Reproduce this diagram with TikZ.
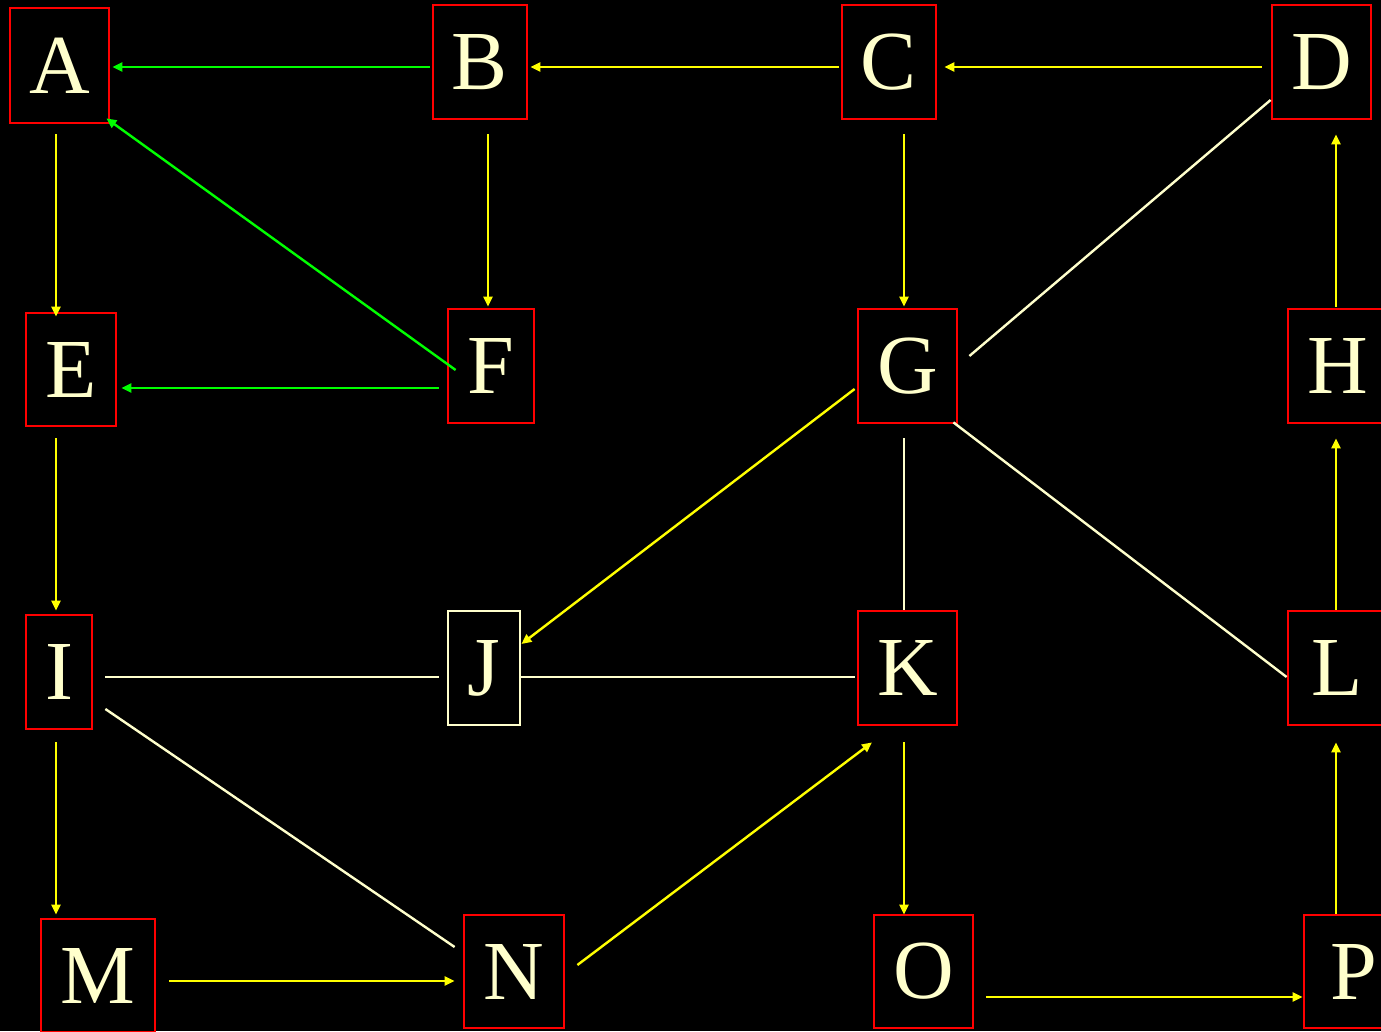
\documentclass[tikz,border=0pt]{standalone}
\usepackage{fontspec}
\setmainfont{Liberation Serif}
\usetikzlibrary{arrows.meta}
\definecolor{cream}{HTML}{FFFFCC}
\definecolor{yel}{HTML}{FFFF00}
\definecolor{grn}{HTML}{00FF00}
\definecolor{rd}{HTML}{FF0000}
\begin{document}
\begin{tikzpicture}[x=1pt,y=1pt,
  box/.style={draw=rd,line width=2.8pt,text=cream,inner sep=0pt,
    font=\fontsize{84}{90}\selectfont,minimum height=114pt},
  jbox/.style={box,draw=cream},
  ya/.style={draw=yel,line width=2.4pt,-{Triangle[length=10pt,width=9pt]}},
  ga/.style={draw=grn,line width=2.4pt,-{Triangle[length=10pt,width=9pt]}},
  cl/.style={draw=cream,line width=2.4pt}]
\fill[black] (0,0) rectangle (1381,-1031);
\useasboundingbox (0,0) rectangle (1381,-1031);
\clip (0,0) rectangle (1381,-1031);
% nodes
\node[box,minimum width=99pt,minimum height=115pt] (A) at (59.5,-65.5) {A};
\node[box,minimum width=94pt] (B) at (480,-62) {B};
\node[box,minimum width=94pt] (C) at (889,-62) {C};
\node[box,minimum width=99pt] (D) at (1321.5,-62) {D};
\node[box,minimum width=90pt,minimum height=113pt] (E) at (71,-369.5) {E};
\node[box,minimum width=86pt] (F) at (491,-366) {F};
\node[box,minimum width=99pt] (G) at (907.5,-366) {G};
\node[box,minimum width=99pt] (H) at (1337.5,-366) {H};
\node[box,minimum width=66pt] (I) at (59,-672) {I};
\node[jbox,minimum width=72pt] (J) at (484,-668) {J};
\node[box,minimum width=99pt] (K) at (907.5,-668) {K};
\node[box,minimum width=99pt] (L) at (1337.5,-668) {L};
\node[box,minimum width=114pt,minimum height=113pt] (M) at (98,-975.5) {M};
\node[box,minimum width=100pt,minimum height=113pt] (N) at (514,-971.5) {N};
\node[box,minimum width=99pt,minimum height=113pt] (O) at (923.5,-971.5) {O};
\node[box,minimum width=99pt,minimum height=113pt] (P) at (1353.5,-971.5) {P};
% connectors
\draw[ya] ([shift={(-3.5,-10)}]A.south) -- ([shift={(-15,-5)}]E.north);
\draw[ga] ([shift={(-2,-5)}]B.west) -- ([shift={(2,-1.5)}]A.east);
\draw[ya] ([shift={(-1.4,-5)}]C.west) -- ([shift={(2,-5)}]B.east);
\draw[ya] ([shift={(-9,-5)}]D.west) -- ([shift={(7,-5)}]C.east);
\draw[ya] ([shift={(8,-14)}]B.south) -- ([shift={(-3,1)}]F.north);
\draw[ya] ([shift={(15,-14)}]C.south) -- ([shift={(-3.5,1)}]G.north);
\draw[ga] ([shift={(9,-4)}]F.west) -- ([shift={(-4,6)}]A.south east);
\draw[ga] ([shift={(-8,-22)}]F.west) -- ([shift={(4,-18.5)}]E.east);
\draw[cl] ([shift={(0,-38)}]D.west) -- ([shift={(11,10)}]G.east);
\draw[ya] ([shift={(-1.5,1)}]H.north) -- ([shift={(14.5,-14)}]D.south);
\draw[ya] ([shift={(-15,-11)}]E.south) -- ([shift={(-3,3)}]I.north);
\draw[ya] ([shift={(-2,-23)}]G.west) -- ([shift={(0,24)}]J.east);
\draw[cl] ([shift={(-3.5,-14)}]G.south) -- ([shift={(-3.5,0)}]K.north);
\draw[cl] ([shift={(-5,2)}]G.south east) -- ([shift={(0,-9)}]L.west);
\draw[ya] ([shift={(-1.5,0)}]L.north) -- ([shift={(-1.5,-14)}]H.south);
\draw[cl] ([shift={(12,-5)}]I.east) -- ([shift={(-8,-9)}]J.west);
\draw[cl] ([shift={(0,-9)}]J.east) -- ([shift={(-2,-9)}]K.west);
\draw[cl] ([shift={(12,-37)}]I.east) -- ([shift={(-8,24.5)}]N.west);
\draw[ya] ([shift={(-3,-12)}]I.south) -- ([shift={(-42,3)}]M.north);
\draw[ya] ([shift={(13,-5.5)}]M.east) -- ([shift={(-8,-9.5)}]N.west);
\draw[ya] ([shift={(12,6.5)}]N.east) -- ([shift={(-35.5,-16)}]K.south);
\draw[ya] ([shift={(-3.5,-16)}]K.south) -- ([shift={(-19.5,-1)}]O.north);
\draw[ya] ([shift={(12,-25.5)}]O.east) -- ([shift={(0,-25.5)}]P.west);
\draw[ya] ([shift={(-17.5,0)}]P.north) -- ([shift={(-1.5,-16)}]L.south);
\end{tikzpicture}
\end{document}
